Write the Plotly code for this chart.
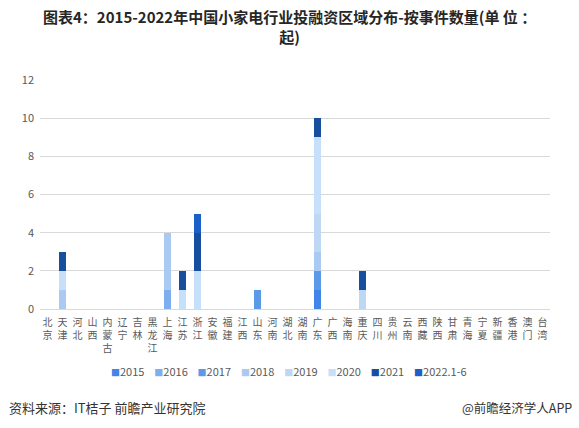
import plotly.graph_objects as go

regions = ["北京", "天津", "河北", "山西", "内蒙古", "辽宁", "吉林", "黑龙江", "上海", "江苏",
           "浙江", "安徽", "福建", "江西", "山东", "河南", "湖北", "湖南", "广东", "广西",
           "海南", "重庆", "四川", "贵州", "云南", "西藏", "陕西", "甘肃", "青海", "宁夏",
           "新疆", "香港", "澳门", "台湾"]

series_names = ["2015", "2016", "2017", "2018", "2019", "2020", "2021", "2022.1-6"]

def row(d):
    return [d.get(r, 0) for r in regions]

v2015 = row({"广东": 1})
v2016 = row({"上海": 1})
v2017 = row({"山东": 1, "广东": 1})
v2018 = row({"天津": 1, "上海": 3, "广东": 1})
v2019 = row({"广东": 2, "重庆": 1})
v2020 = row({"天津": 1, "江苏": 1, "浙江": 2, "广东": 4})
v2021 = row({"天津": 1, "江苏": 1, "浙江": 2, "广东": 1, "重庆": 1})
v2022 = row({"浙江": 1})

series_values = [v2015, v2016, v2017, v2018, v2019, v2020, v2021, v2022]
colors = ["#4285E8", "#7EAEEE", "#5A9AE8", "#AACAF2", "#BDD7F5", "#C6E0FA", "#184E9E", "#1C5FC6"]

tick_text = ["<br>".join(list(r)) for r in regions]

fig = go.Figure()
for name, vals, col in zip(series_names, series_values, colors):
    fig.add_trace(go.Bar(x=regions, y=vals, name=name, showlegend=False,
                         marker=dict(color=col, line=dict(width=0))))

font_cjk = "Noto Sans CJK SC, Liberation Sans, sans-serif"
W, H = 579, 428
plot_left, plot_right = 40, 550
plot_top, plot_bottom = 80, 309
pw = plot_right - plot_left
ph = plot_bottom - plot_top

def px(pix):
    return (pix - plot_left) / pw

def py(pix):
    return (plot_bottom - pix) / ph

legend_text = "&nbsp;&nbsp;&nbsp;&nbsp;".join(
    f"<span style='color:{c};font-size:9px'>■</span>{n}" for n, c in zip(series_names, colors)
)

fig.update_layout(
    width=W, height=H,
    barmode="stack", bargap=0.55,
    paper_bgcolor="white", plot_bgcolor="white",
    margin=dict(l=plot_left, r=W - plot_right, t=plot_top, b=H - plot_bottom, autoexpand=False),
    font=dict(family=font_cjk, size=11, color="#595959"),
    xaxis=dict(
        tickmode="array", tickvals=regions, ticktext=tick_text, automargin=False,
        tickangle=0, showgrid=False, showline=True, linecolor="#D9D9D9",
        ticks="", ticklabelstandoff=4, tickfont=dict(size=10, color="#595959"),
    ),
    yaxis=dict(
        range=[0, 12], dtick=2, showgrid=True, gridcolor="#D9D9D9", gridwidth=1,
        zeroline=False, showline=False, ticks="", automargin=False, ticklabelstandoff=5,
        tickfont=dict(size=11, color="#595959"),
    ),
    showlegend=False,
    hovermode=False,
    annotations=[
        dict(text="<b>图表4：2015-2022年中国小家电行业投融资区域分布-按事件数量(单 位 ：<br>起)</b>",
             xref="paper", yref="paper", x=px(289), y=py(4), xanchor="center", yanchor="top",
             showarrow=False, font=dict(family=font_cjk, size=15, color="#262626")),
        dict(text=legend_text, xref="paper", yref="paper",
             x=px(289), y=py(371), xanchor="center", yanchor="middle", showarrow=False,
             font=dict(size=11, color="#595959", family=font_cjk)),
        dict(text="资料来源：IT桔子 前瞻产业研究院", xref="paper", yref="paper",
             x=px(7), y=py(407), xanchor="left", yanchor="middle", showarrow=False,
             font=dict(size=13, color="#333333", family=font_cjk)),
        dict(text="@前瞻经济学人APP",
             xref="paper", yref="paper",
             x=px(574), y=py(407), xanchor="right", yanchor="middle", showarrow=False,
             font=dict(size=12.5, color="#333333", family=font_cjk)),
    ],
)

fig.write_html("out.html", config={"displayModeBar": False},
               post_script="document.body.style.margin='0px';")
